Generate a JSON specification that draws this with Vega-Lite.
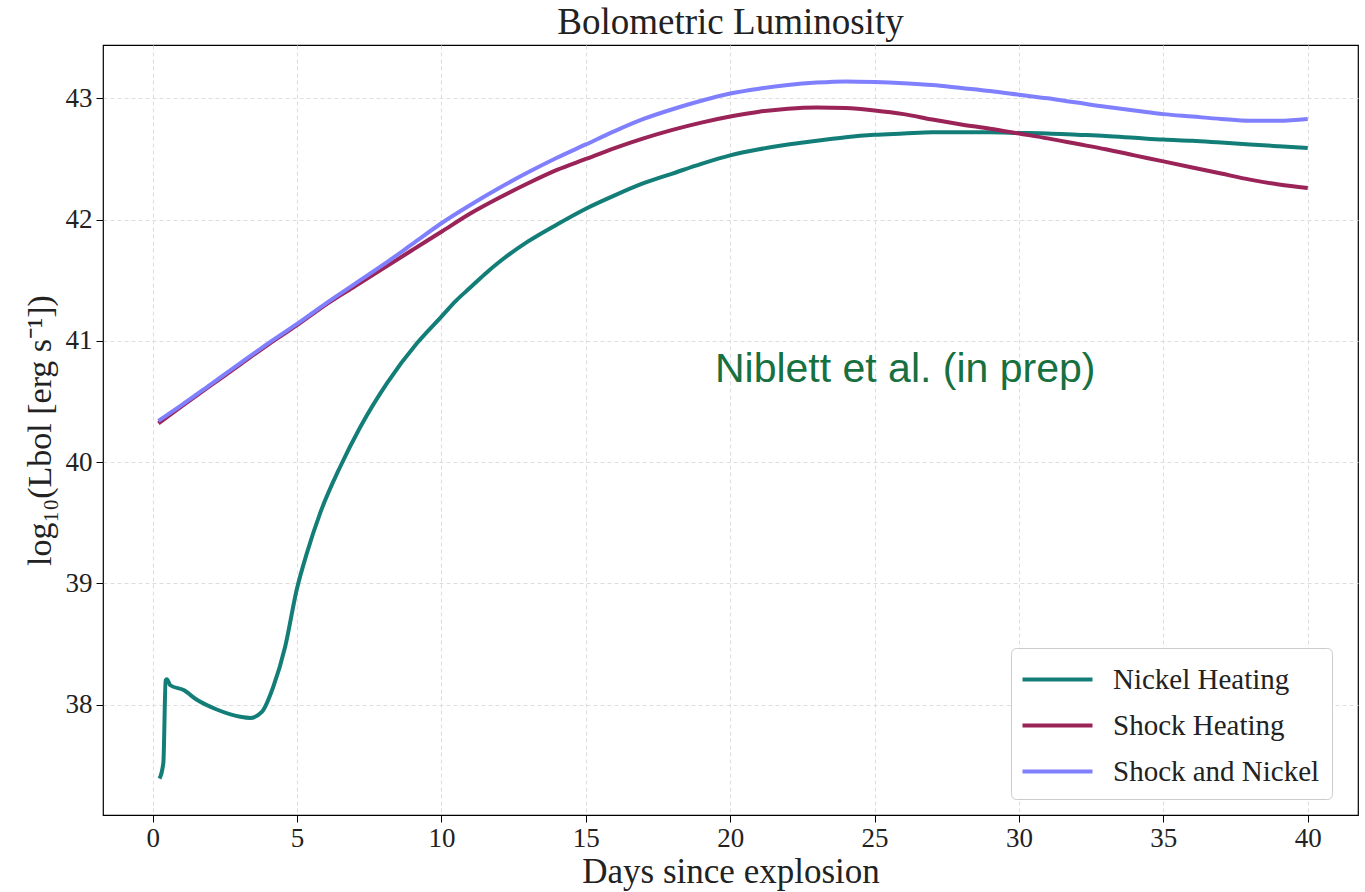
{
  "$schema": "https://vega.github.io/schema/vega-lite/v6.json",
  "width": 1255,
  "height": 770,
  "autosize": {"type": "none"},
  "padding": {"left": 103, "top": 45, "right": 7, "bottom": 77},
  "background": "white",
  "config": {
    "view": {"stroke": "black", "strokeWidth": 1.2},
    "font": "Liberation Serif",
    "axis": {
      "labelFont": "Liberation Serif",
      "titleFont": "Liberation Serif",
      "labelFontSize": 27,
      "titleFontSize": 35,
      "labelColor": "#222",
      "titleColor": "#222",
      "titleFontWeight": "normal",
      "domain": false,
      "tickColor": "black",
      "tickSize": 7,
      "tickWidth": 1,
      "grid": true,
      "gridColor": "#dddddd",
      "gridDash": [4, 3],
      "gridWidth": 1
    }
  },
  "title": {
    "text": "Bolometric Luminosity",
    "font": "Liberation Serif",
    "fontSize": 37,
    "fontWeight": "normal",
    "color": "#222",
    "anchor": "middle",
    "offset": 3
  },
  "data": {
    "values": [
      {"series": "Nickel Heating", "day": 0.24, "L": 37.39},
      {"series": "Nickel Heating", "day": 0.37, "L": 37.52},
      {"series": "Nickel Heating", "day": 0.45, "L": 38.2},
      {"series": "Nickel Heating", "day": 0.49, "L": 38.21},
      {"series": "Nickel Heating", "day": 0.61, "L": 38.16},
      {"series": "Nickel Heating", "day": 1.07, "L": 38.12},
      {"series": "Nickel Heating", "day": 1.53, "L": 38.04},
      {"series": "Nickel Heating", "day": 2.22, "L": 37.96},
      {"series": "Nickel Heating", "day": 3.03, "L": 37.9},
      {"series": "Nickel Heating", "day": 3.38, "L": 37.89},
      {"series": "Nickel Heating", "day": 3.78, "L": 37.94},
      {"series": "Nickel Heating", "day": 4.18, "L": 38.15},
      {"series": "Nickel Heating", "day": 4.59, "L": 38.48},
      {"series": "Nickel Heating", "day": 4.99, "L": 38.95},
      {"series": "Nickel Heating", "day": 5.34, "L": 39.25},
      {"series": "Nickel Heating", "day": 5.8, "L": 39.58},
      {"series": "Nickel Heating", "day": 6.49, "L": 39.96},
      {"series": "Nickel Heating", "day": 7.19, "L": 40.29},
      {"series": "Nickel Heating", "day": 8.11, "L": 40.65},
      {"series": "Nickel Heating", "day": 9.15, "L": 40.98},
      {"series": "Nickel Heating", "day": 10, "L": 41.2},
      {"series": "Nickel Heating", "day": 10.5, "L": 41.33},
      {"series": "Nickel Heating", "day": 11, "L": 41.44},
      {"series": "Nickel Heating", "day": 11.5, "L": 41.55},
      {"series": "Nickel Heating", "day": 12, "L": 41.65},
      {"series": "Nickel Heating", "day": 13, "L": 41.82},
      {"series": "Nickel Heating", "day": 14, "L": 41.96},
      {"series": "Nickel Heating", "day": 15, "L": 42.09},
      {"series": "Nickel Heating", "day": 16, "L": 42.2},
      {"series": "Nickel Heating", "day": 17, "L": 42.3},
      {"series": "Nickel Heating", "day": 18, "L": 42.38},
      {"series": "Nickel Heating", "day": 19, "L": 42.46},
      {"series": "Nickel Heating", "day": 20, "L": 42.53},
      {"series": "Nickel Heating", "day": 21, "L": 42.58},
      {"series": "Nickel Heating", "day": 22, "L": 42.62},
      {"series": "Nickel Heating", "day": 23, "L": 42.65},
      {"series": "Nickel Heating", "day": 24, "L": 42.68},
      {"series": "Nickel Heating", "day": 25, "L": 42.7},
      {"series": "Nickel Heating", "day": 26, "L": 42.71},
      {"series": "Nickel Heating", "day": 27, "L": 42.72},
      {"series": "Nickel Heating", "day": 28, "L": 42.72},
      {"series": "Nickel Heating", "day": 29, "L": 42.72},
      {"series": "Nickel Heating", "day": 30, "L": 42.715},
      {"series": "Nickel Heating", "day": 31, "L": 42.71},
      {"series": "Nickel Heating", "day": 32, "L": 42.7},
      {"series": "Nickel Heating", "day": 33, "L": 42.69},
      {"series": "Nickel Heating", "day": 34, "L": 42.675},
      {"series": "Nickel Heating", "day": 35, "L": 42.66},
      {"series": "Nickel Heating", "day": 36, "L": 42.65},
      {"series": "Nickel Heating", "day": 37, "L": 42.635},
      {"series": "Nickel Heating", "day": 38, "L": 42.62},
      {"series": "Nickel Heating", "day": 39, "L": 42.605},
      {"series": "Nickel Heating", "day": 40, "L": 42.59},
      {"series": "Shock Heating", "day": 0.2, "L": 40.32},
      {"series": "Shock Heating", "day": 1, "L": 40.46},
      {"series": "Shock Heating", "day": 2, "L": 40.63},
      {"series": "Shock Heating", "day": 3, "L": 40.8},
      {"series": "Shock Heating", "day": 4, "L": 40.97},
      {"series": "Shock Heating", "day": 5, "L": 41.13},
      {"series": "Shock Heating", "day": 6, "L": 41.3},
      {"series": "Shock Heating", "day": 7, "L": 41.45},
      {"series": "Shock Heating", "day": 8, "L": 41.6},
      {"series": "Shock Heating", "day": 9, "L": 41.75},
      {"series": "Shock Heating", "day": 10, "L": 41.9},
      {"series": "Shock Heating", "day": 11, "L": 42.05},
      {"series": "Shock Heating", "day": 12, "L": 42.18},
      {"series": "Shock Heating", "day": 13, "L": 42.3},
      {"series": "Shock Heating", "day": 14, "L": 42.41},
      {"series": "Shock Heating", "day": 15, "L": 42.5},
      {"series": "Shock Heating", "day": 16, "L": 42.59},
      {"series": "Shock Heating", "day": 17, "L": 42.67},
      {"series": "Shock Heating", "day": 18, "L": 42.74},
      {"series": "Shock Heating", "day": 19, "L": 42.8},
      {"series": "Shock Heating", "day": 20, "L": 42.85},
      {"series": "Shock Heating", "day": 21, "L": 42.89},
      {"series": "Shock Heating", "day": 22, "L": 42.915},
      {"series": "Shock Heating", "day": 23, "L": 42.925},
      {"series": "Shock Heating", "day": 24, "L": 42.92},
      {"series": "Shock Heating", "day": 25, "L": 42.9},
      {"series": "Shock Heating", "day": 26, "L": 42.87},
      {"series": "Shock Heating", "day": 27, "L": 42.825},
      {"series": "Shock Heating", "day": 28, "L": 42.785},
      {"series": "Shock Heating", "day": 29, "L": 42.75},
      {"series": "Shock Heating", "day": 30, "L": 42.71},
      {"series": "Shock Heating", "day": 31, "L": 42.67},
      {"series": "Shock Heating", "day": 32, "L": 42.625},
      {"series": "Shock Heating", "day": 33, "L": 42.58},
      {"series": "Shock Heating", "day": 34, "L": 42.53},
      {"series": "Shock Heating", "day": 35, "L": 42.48},
      {"series": "Shock Heating", "day": 36, "L": 42.43},
      {"series": "Shock Heating", "day": 37, "L": 42.38},
      {"series": "Shock Heating", "day": 38, "L": 42.33},
      {"series": "Shock Heating", "day": 39, "L": 42.29},
      {"series": "Shock Heating", "day": 40, "L": 42.26},
      {"series": "Shock and Nickel", "day": 0.2, "L": 40.34},
      {"series": "Shock and Nickel", "day": 1, "L": 40.47},
      {"series": "Shock and Nickel", "day": 2, "L": 40.64},
      {"series": "Shock and Nickel", "day": 3, "L": 40.81},
      {"series": "Shock and Nickel", "day": 4, "L": 40.98},
      {"series": "Shock and Nickel", "day": 5, "L": 41.14},
      {"series": "Shock and Nickel", "day": 6, "L": 41.31},
      {"series": "Shock and Nickel", "day": 7, "L": 41.47},
      {"series": "Shock and Nickel", "day": 8, "L": 41.63},
      {"series": "Shock and Nickel", "day": 9, "L": 41.8},
      {"series": "Shock and Nickel", "day": 10, "L": 41.97},
      {"series": "Shock and Nickel", "day": 11, "L": 42.12},
      {"series": "Shock and Nickel", "day": 12, "L": 42.26},
      {"series": "Shock and Nickel", "day": 13, "L": 42.39},
      {"series": "Shock and Nickel", "day": 14, "L": 42.51},
      {"series": "Shock and Nickel", "day": 15, "L": 42.62},
      {"series": "Shock and Nickel", "day": 16, "L": 42.73},
      {"series": "Shock and Nickel", "day": 17, "L": 42.83},
      {"series": "Shock and Nickel", "day": 18, "L": 42.91},
      {"series": "Shock and Nickel", "day": 19, "L": 42.98},
      {"series": "Shock and Nickel", "day": 20, "L": 43.04},
      {"series": "Shock and Nickel", "day": 21, "L": 43.08},
      {"series": "Shock and Nickel", "day": 22, "L": 43.11},
      {"series": "Shock and Nickel", "day": 23, "L": 43.13},
      {"series": "Shock and Nickel", "day": 24, "L": 43.14},
      {"series": "Shock and Nickel", "day": 25, "L": 43.135},
      {"series": "Shock and Nickel", "day": 26, "L": 43.125},
      {"series": "Shock and Nickel", "day": 27, "L": 43.11},
      {"series": "Shock and Nickel", "day": 28, "L": 43.085},
      {"series": "Shock and Nickel", "day": 29, "L": 43.06},
      {"series": "Shock and Nickel", "day": 30, "L": 43.03},
      {"series": "Shock and Nickel", "day": 31, "L": 43.0},
      {"series": "Shock and Nickel", "day": 32, "L": 42.965},
      {"series": "Shock and Nickel", "day": 33, "L": 42.93},
      {"series": "Shock and Nickel", "day": 34, "L": 42.9},
      {"series": "Shock and Nickel", "day": 35, "L": 42.87},
      {"series": "Shock and Nickel", "day": 36, "L": 42.85},
      {"series": "Shock and Nickel", "day": 37, "L": 42.83},
      {"series": "Shock and Nickel", "day": 38, "L": 42.815},
      {"series": "Shock and Nickel", "day": 39, "L": 42.815},
      {"series": "Shock and Nickel", "day": 40, "L": 42.83}
    ]
  },
  "layer": [
    {
      "mark": {"type": "line", "strokeWidth": 4, "interpolate": "monotone", "clip": true},
      "encoding": {
        "x": {
          "field": "day", "type": "quantitative",
          "scale": {"domain": [-1.72, 41.74], "nice": false, "zero": false},
          "axis": {"values": [0, 5, 10, 15, 20, 25, 30, 35, 40], "format": "d", "title": "Days since explosion", "titlePadding": 3, "labelPadding": 3}
        },
        "y": {
          "field": "L", "type": "quantitative",
          "scale": {"domain": [37.09, 43.44], "nice": false, "zero": false},
          "axis": {"values": [38, 39, 40, 41, 42, 43], "format": "d", "title": "log₁₀(Lbol [erg s⁻¹])", "titleFontSize": 34, "titlePadding": 8, "labelPadding": 4}
        },
        "color": {
          "field": "series", "type": "nominal",
          "scale": {"domain": ["Nickel Heating", "Shock Heating", "Shock and Nickel"], "range": ["#137e78", "#9a2358", "#8080ff"]},
          "legend": {
            "title": null,
            "orient": "none",
            "legendX": 908,
            "legendY": 603,
            "symbolType": "M-2,0H2",
            "symbolSize": 1225,
            "symbolStrokeWidth": 4,
            "symbolOffset": 15,
            "labelFont": "Liberation Serif",
            "labelFontSize": 29,
            "labelColor": "#222",
            "labelLimit": 400,
            "labelOffset": 36,
            "rowPadding": 11,
            "padding": 12,
            "fillColor": "white",
            "strokeColor": "#cccccc",
            "cornerRadius": 5
          }
        }
      }
    },
    {
      "data": {"values": [{"day": 26.06, "L": 40.76, "label": "Niblett et al. (in prep)"}]},
      "mark": {"type": "text", "font": "Liberation Sans", "fontSize": 41, "color": "#17703f", "align": "center", "baseline": "middle"},
      "encoding": {
        "x": {"field": "day", "type": "quantitative"},
        "y": {"field": "L", "type": "quantitative"},
        "text": {"field": "label"}
      }
    }
  ]
}
